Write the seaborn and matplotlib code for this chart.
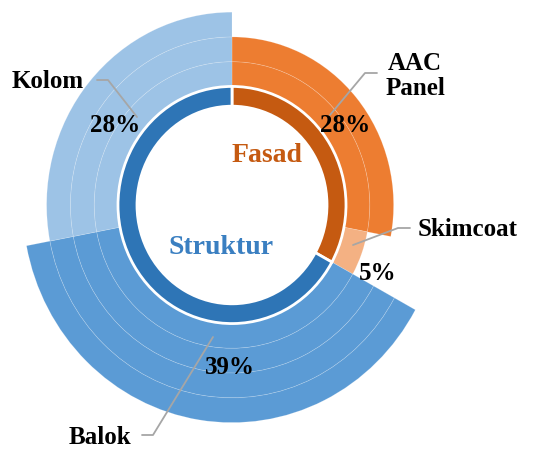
import matplotlib.pyplot as plt
import seaborn as sns

# inner ring: main groups
groups = ["Fasad", "Struktur"]
group_share = [33, 67]

# outer ring: work items (clockwise from 12 o'clock)
items = ["AAC Panel", "Skimcoat", "Balok", "Kolom"]
item_share = [28, 5, 39, 28]
item_depth = [2, 1, 4, 3]   # how many rings each item fills

sns.set_theme(style="white")
plt.rcParams['font.family'] = ['Liberation Serif', 'DejaVu Serif']

group_colors = ["#C55A11", "#2E75B6"]
item_colors = ["#ED7D31", "#F4B183", "#5B9BD5", "#9DC3E6"]

W, H = 547, 449
CX, CY = 232, 205
SY = 1.04


def P(x, y):
    # pixel position -> data coords
    return (x - CX, (CY - y) / SY)


fig = plt.figure(figsize=(W / 100, H / 100), dpi=100)
ax = fig.add_axes([0, 0, 1, 1])

r0 = 114
step = 23.8
for k in range(4):
    cols = [c if d > k else (0, 0, 0, 0) for c, d in zip(item_colors, item_depth)]
    wedges, _ = ax.pie(item_share, radius=r0 + step * (k + 1), colors=cols,
                       startangle=90, counterclock=False,
                       wedgeprops=dict(width=step, edgecolor=(1, 1, 1, 0.22), linewidth=0.5))
    for w, d in zip(wedges, item_depth):
        if d <= k:
            w.set_edgecolor("none")

ax.pie(group_share, radius=r0, colors=group_colors, startangle=90, counterclock=False,
       wedgeprops=dict(width=19, edgecolor="white", linewidth=2))

ax.set_aspect("auto")
ax.set_xlim(-CX, W - CX)
ax.set_ylim((CY - H) / SY, CY / SY)
ax.axis("off")

# group names in the hole
ax.text(*P(267, 155), groups[0], color=group_colors[0], fontsize=20, fontweight="bold",
        ha="center", va="center")
ax.text(*P(221, 247), groups[1], color="#3A7FC1", fontsize=20, fontweight="bold",
        ha="center", va="center")

# item labels, leaders and percentages
names = {"AAC Panel": "AAC\nPanel", "Skimcoat": "Skimcoat", "Balok": "Balok", "Kolom": "Kolom"}
name_pos = {"AAC Panel": (415, 76), "Skimcoat": (468, 230), "Balok": (100, 437), "Kolom": (48, 82)}
pct_pos = {"AAC Panel": (345, 126), "Skimcoat": (378, 273), "Balok": (230, 367), "Kolom": (115, 126)}
leaders = {
    "AAC Panel": [(377, 73), (365, 73), (330, 115)],
    "Skimcoat": [(410, 228), (398, 228), (353, 245)],
    "Balok": [(142, 435), (153, 435), (213, 337)],
    "Kolom": [(97, 80), (108, 80), (137, 117)],
}

for name, val in zip(items, item_share):
    pts = [P(x, y) for x, y in leaders[name]]
    ax.plot([p[0] for p in pts], [p[1] for p in pts], color="#A6A6A6", lw=1.3)
    ax.text(*P(*name_pos[name]), names[name], fontsize=18, fontweight="bold",
            ha="center", va="center", linespacing=1.15, color="black")
    ax.text(*P(*pct_pos[name]), f"{val}%", fontsize=18, fontweight="bold",
            ha="center", va="center", color="black")

fig.savefig("out.png", dpi=100)
